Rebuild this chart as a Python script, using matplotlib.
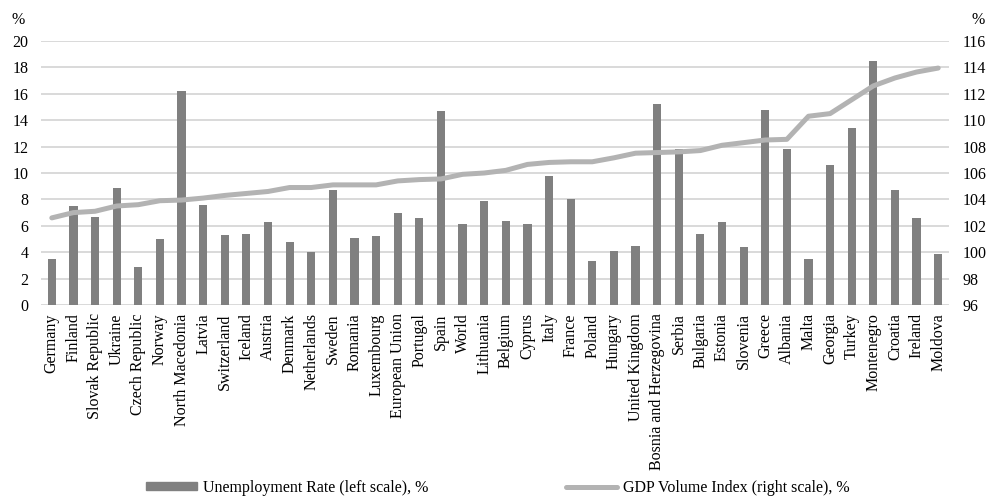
from matplotlib import pyplot as plt
from matplotlib.lines import Line2D
from matplotlib.patches import Patch
import numpy as np

plt.rcParams["font.family"] = ["Liberation Serif", "DejaVu Serif"]
plt.rcParams["font.size"] = 11.5

countries = [
    "Germany", "Finland", "Slovak Republic", "Ukraine", "Czech Republic",
    "Norway", "North Macedonia", "Latvia", "Switzerland", "Iceland",
    "Austria", "Denmark", "Netherlands", "Sweden", "Romania", "Luxembourg",
    "European Union", "Portugal", "Spain", "World", "Lithuania", "Belgium",
    "Cyprus", "Italy", "France", "Poland", "Hungary", "United Kingdom",
    "Bosnia and Herzegovina", "Serbia", "Bulgaria", "Estonia", "Slovenia",
    "Greece", "Albania", "Malta", "Georgia", "Turkey", "Montenegro",
    "Croatia", "Ireland", "Moldova",
]
unemployment = [
    3.5, 7.5, 6.7, 8.9, 2.9, 5.0, 16.2, 7.6, 5.3, 5.4,
    6.3, 4.8, 4.0, 8.7, 5.1, 5.2, 7.0, 6.6, 14.7, 6.1,
    7.9, 6.4, 6.1, 9.8, 8.0, 3.3, 4.1, 4.5, 15.2, 11.8,
    5.4, 6.3, 4.4, 14.8, 11.8, 3.5, 10.6, 13.4, 18.5, 8.7,
    6.6, 3.9,
]
gdp_index = [
    102.6, 103.0, 103.1, 103.5, 103.6, 103.9, 103.95, 104.1, 104.3, 104.45,
    104.6, 104.9, 104.9, 105.1, 105.1, 105.1, 105.4, 105.5, 105.55, 105.9,
    106.0, 106.2, 106.65, 106.8, 106.85, 106.85, 107.15, 107.5, 107.55, 107.6,
    107.7, 108.1, 108.3, 108.5, 108.55, 110.3, 110.5, 111.55, 112.6, 113.2,
    113.65, 113.95,
]
left_ticks = list(range(0, 21, 2))
right_ticks = list(range(96, 117, 2))

bar_color = "#808080"
line_color = "#b3b3b3"
grid_color = "#d9d9d9"

fig = plt.figure(figsize=(9.87, 4.96), dpi=100)
ax = fig.add_axes([41 / 987, 1 - 305 / 496, 908 / 987, 264 / 496])
x = np.arange(len(countries))

ax.bar(x, unemployment, width=0.38, color=bar_color, zorder=2)
ax.set_xlim(-0.5, len(countries) - 0.5)
ax.set_ylim(0, 20)
ax.set_yticks(left_ticks)
ax.set_xticks(x)
ax.set_xticklabels(countries, rotation=90)
ax.grid(axis="y", color=grid_color, lw=1.4, zorder=0)
ax.set_axisbelow(True)
ax.tick_params(axis="both", length=0)
ax.tick_params(axis="y", pad=9)
ax.tick_params(axis="x", pad=6)

tax = ax.twinx()
tax.plot(x, gdp_index, color=line_color, lw=3.6, solid_capstyle="round")
tax.set_ylim(96, 116)
tax.set_yticks(right_ticks)
tax.tick_params(axis="y", length=0, pad=10)

for a in (ax, tax):
    for s in a.spines.values():
        s.set_visible(False)

fig.text(12 / 987, 1 - 20 / 496, "%", ha="left", va="center")
fig.text(972 / 987, 1 - 20 / 496, "%", ha="left", va="center")

handles = [
    Patch(color=bar_color),
    Line2D([], [], color=line_color, lw=3.6, solid_capstyle="round"),
]
labels = ["Unemployment Rate (left scale), %", "GDP Volume Index (right scale), %"]
fig.legend(
    handles, labels, ncol=2, frameon=False,
    loc="center left", bbox_to_anchor=(146 / 987, 1 - 488 / 496),
    handlelength=3.2, handleheight=0.38, handletextpad=0.38,
    columnspacing=8.6, borderpad=0, borderaxespad=0,
)

fig.savefig("out.png", dpi=100)
